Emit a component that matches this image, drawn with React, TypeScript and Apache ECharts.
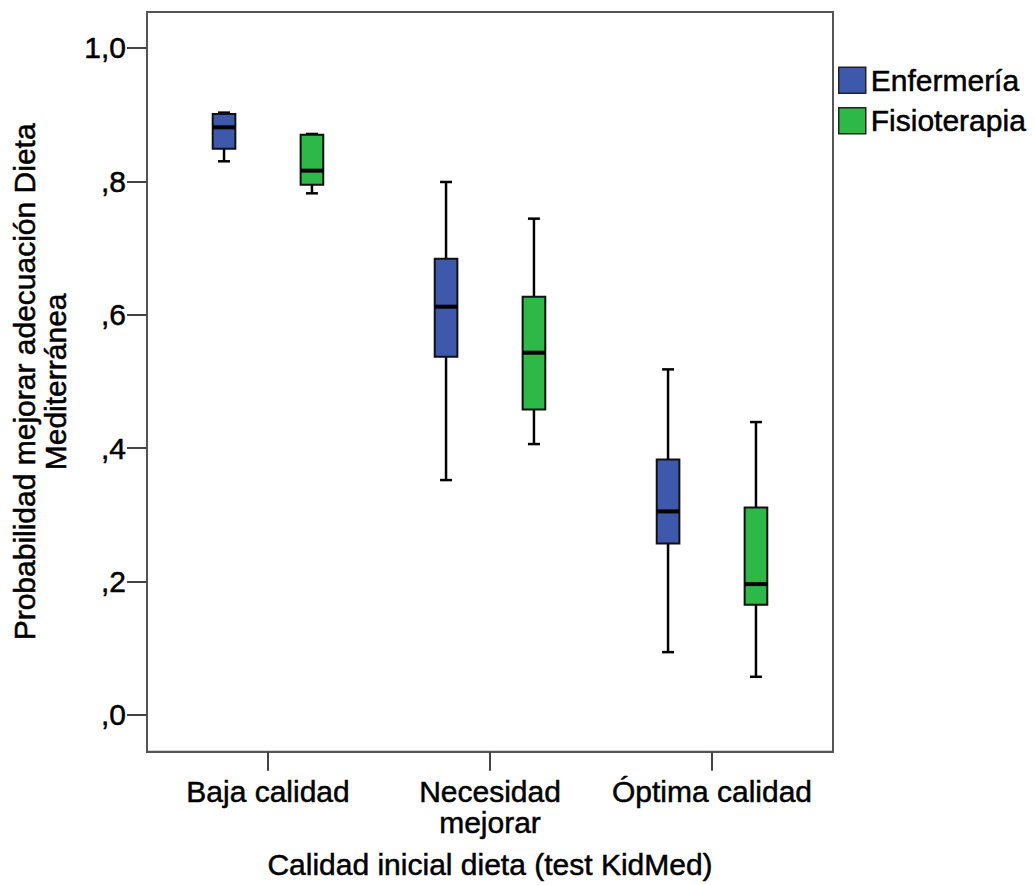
import React, { useEffect, useRef } from "react";
import * as echarts from "echarts";

const categories = ["Baja calidad", "Necesidad\nmejorar", "Óptima calidad"];
const groupNames = ["Enfermería", "Fisioterapia"];
// each row: [min, q1, median, q3, max]
const enfermeria = [
  [0.83, 0.849, 0.881, 0.901, 0.903],
  [0.352, 0.537, 0.612, 0.684, 0.799],
  [0.094, 0.257, 0.305, 0.383, 0.518],
];
const fisioterapia = [
  [0.782, 0.795, 0.816, 0.87, 0.871],
  [0.406, 0.458, 0.543, 0.627, 0.744],
  [0.057, 0.165, 0.196, 0.311, 0.439],
];
const yTicks = [0, 0.2, 0.4, 0.6, 0.8, 1.0];
const yTickLabels = [",0", ",2", ",4", ",6", ",8", "1,0"];
const xTitle = "Calidad inicial dieta (test KidMed)";
const yTitle = "Probabilidad mejorar adecuación Dieta\nMediterránea";

const COLORS = ["#3E58AC", "#2EB848"];
const FONT = "'Liberation Sans', Arial, sans-serif";
const TXT = { color: "#000", fontFamily: FONT, fontSize: 30, textBorderColor: "#000", textBorderWidth: 0.5 };

function makeRender(offset: number) {
  return (params: any, api: any) => {
    const x = api.value(0) + offset;
    const pMin = api.coord([x, api.value(1)]);
    const pQ1 = api.coord([x, api.value(2)]);
    const pMed = api.coord([x, api.value(3)]);
    const pQ3 = api.coord([x, api.value(4)]);
    const pMax = api.coord([x, api.value(5)]);
    const bw = api.size([0.102, 0])[0];
    const cw = api.size([0.054, 0])[0];
    const cx = pMin[0];
    const color = api.visual("color");
    const lineStyle = { stroke: "#000", lineWidth: 2.5 };
    return {
      type: "group",
      children: [
        { type: "line", shape: { x1: cx, y1: pQ3[1], x2: cx, y2: pMax[1] }, style: lineStyle },
        { type: "line", shape: { x1: cx, y1: pQ1[1], x2: cx, y2: pMin[1] }, style: lineStyle },
        { type: "line", shape: { x1: cx - cw / 2, y1: pMax[1], x2: cx + cw / 2, y2: pMax[1] }, style: lineStyle },
        { type: "line", shape: { x1: cx - cw / 2, y1: pMin[1], x2: cx + cw / 2, y2: pMin[1] }, style: lineStyle },
        {
          type: "rect",
          shape: { x: cx - bw / 2, y: pQ3[1], width: bw, height: pQ1[1] - pQ3[1] },
          style: { fill: color, stroke: "#111", lineWidth: 2 },
        },
        {
          type: "line",
          shape: { x1: cx - bw / 2, y1: pMed[1], x2: cx + bw / 2, y2: pMed[1] },
          style: { stroke: "#000", lineWidth: 4 },
        },
      ],
    };
  };
}

export default function App() {
  const ref = useRef<HTMLDivElement>(null);
  useEffect(() => {
    if (!ref.current) return;
    const chart = echarts.init(ref.current, null, { renderer: "svg" });
    const groupsData = [enfermeria, fisioterapia];
    const offsets = [-0.198, 0.198];
    chart.setOption({
      animation: false,
      backgroundColor: "#fff",
      textStyle: { fontFamily: FONT },
      grid: {
        left: 147,
        top: 12,
        right: 202,
        bottom: 132,
        show: true,
        borderColor: "#555",
        borderWidth: 2,
        backgroundColor: "transparent",
      },
      legend: {
        orient: "vertical",
        left: 838,
        top: 65,
        padding: 0,
        itemWidth: 27,
        itemHeight: 26,
        itemGap: 10,
        icon: "rect",
        itemStyle: { borderColor: "#222", borderWidth: 1.5 },
        textStyle: { ...TXT, lineHeight: 26 },
        data: groupNames,
      },
      xAxis: {
        type: "value",
        min: 0.455,
        max: 3.545,
        splitLine: { show: false },
        axisLine: { onZero: false, lineStyle: { color: "#555", width: 2 } },
        axisTick: { customValues: [1, 2, 3], length: 19, lineStyle: { color: "#444", width: 2 } },
        axisLabel: {
          ...TXT,
          customValues: [1, 2, 3],
          formatter: (v: number) => categories[Math.round(v) - 1] || "",
          lineHeight: 31,
          margin: 24,
        },
        name: xTitle,
        nameLocation: "middle",
        nameGap: 98,
        nameTextStyle: { ...TXT },
      },
      yAxis: {
        type: "value",
        min: -0.0554,
        max: 1.0539,
        splitLine: { show: false },
        axisLine: { onZero: false, lineStyle: { color: "#555", width: 2 } },
        axisTick: { customValues: yTicks, length: 20, lineStyle: { color: "#444", width: 2 } },
        axisLabel: {
          ...TXT,
          customValues: yTicks,
          formatter: (v: number) => {
            const i = yTicks.findIndex((t) => Math.abs(t - v) < 1e-6);
            return i >= 0 ? yTickLabels[i] : "";
          },
          margin: 21,
        },
        name: yTitle,
        nameLocation: "middle",
        nameRotate: 90,
        nameGap: 76,
        nameTextStyle: { ...TXT, lineHeight: 31, align: "center" },
      },
      series: groupNames.map((name, gi) => ({
        name,
        type: "custom",
        itemStyle: { color: COLORS[gi] },
        encode: { x: 0, y: [1, 2, 3, 4, 5] },
        renderItem: makeRender(offsets[gi]),
        data: groupsData[gi].map((row, i) => [i + 1, ...row]),
      })),
    });
    return () => chart.dispose();
  }, []);
  return (
    <div
      ref={ref}
      style={{ position: "fixed", left: 0, top: 0, width: 1035, height: 885, background: "#fff" }}
    />
  );
}
